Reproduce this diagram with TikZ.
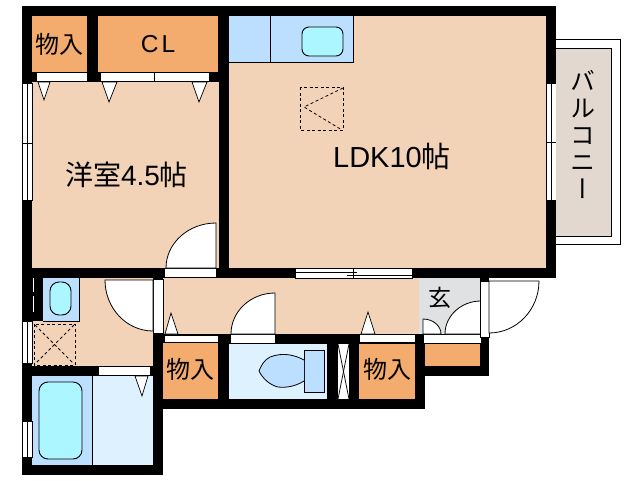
\documentclass[tikz,border=0pt]{standalone}
\usepackage{fontspec}
\setmainfont{Liberation Sans}
\newfontfamily\cjk{Noto Sans CJK JP}
\newfontfamily\cjkv[RawFeature=+vert]{Noto Sans CJK JP}
\definecolor{wallblack}{HTML}{000000}
\definecolor{roombeige}{HTML}{F2D3B8}
\definecolor{closetorange}{HTML}{F4AC6E}
\definecolor{wetblue}{HTML}{BDDFFF}
\definecolor{palebath}{HTML}{DEF1FF}
\definecolor{tubcyan}{HTML}{ABF6FF}
\definecolor{entrygray}{HTML}{DFE1E2}
\definecolor{balconytan}{HTML}{E2D8CF}
\tikzset{
  wall/.style={fill=wallblack, draw=none},
  room/.style={fill=roombeige, draw=none},
  closet/.style={fill=closetorange, draw=none},
  strip/.style={fill=white, draw=black, line width=0.7pt},
  doorleaf/.style={fill=white, draw=black, line width=0.8pt},
  fixture/.style={fill=wetblue, draw=black, line width=0.8pt},
  tub/.style={fill=tubcyan, draw=black, line width=0.9pt, rounded corners=7pt},
  hatch/.style={draw=black, line width=0.8pt, dash pattern=on 3pt off 2.5pt},
  wireline/.style={draw=black, line width=0.7pt},
  roomtext/.style={inner sep=0pt, text=black}
}
\begin{document}
\begin{tikzpicture}[x=1pt,y=-1pt]
\useasboundingbox[fill=white] (0,0) rectangle (638,480);

\fill[wall] (22,6) rectangle (556,278);
\fill[wall] (22,278) rectangle (163,475);
\fill[wall] (153,334) rectangle (425,409);
\fill[wall] (415,334) rectangle (489,376);
\fill[wall] (480,278) rectangle (489,282);

\fill[closet] (32,16) rectangle (87,72);
\fill[closet] (98,16) rectangle (218,72);
\fill[room] (32,82) rectangle (219,268);
\fill[room] (229,16) rectangle (546,268);
\fill[room] (163,278) rectangle (419,334);
\fill[room] (32,278) rectangle (153,366);
\fill[wall] (32,278) rectangle (43,321);
\fill[closet] (163,343) rectangle (218,399);
\fill[closet] (359,344) rectangle (415,399);
\fill[closet] (425,344) rectangle (480,366);
\fill[entrygray] (419,278) rectangle (480,334);
\fill[fill=palebath] (229,344) rectangle (327,399);
\fill[fill=palebath] (92,376) rectangle (153,465);

\draw[strip] (36,72) rectangle (87,81);
\draw[strip] (100,72) rectangle (209,81);
\draw[wireline] (154,72) -- (154,81);
\draw[strip] (38,82) -- (50,82) -- (44,100) -- cycle;
\draw[strip] (102,82) -- (117,82) -- (109,102) -- cycle;
\draw[strip] (192,82) -- (207,82) -- (199,102) -- cycle;

\draw[strip] (22,83) rectangle (32,200);
\draw[wireline] (27,83) -- (27,200);
\draw[wireline] (22,143) -- (32,143);
\draw[wireline] (27,137) -- (27,149);
\draw[strip] (546,83) rectangle (556,200);
\draw[wireline] (551,83) -- (551,200);
\draw[wireline] (546,142) -- (556,142);
\draw[wireline] (551,136) -- (551,148);

\fill[fill=wetblue] (229,16) rectangle (353,62);
\draw[wireline] (229,62) -- (353,62) -- (353,16);
\draw[wireline] (270,16) -- (270,62);
\draw[tub] (302,27) rectangle (343,56);
\draw[hatch] (300,87) rectangle (343,130);
\draw[hatch] (343,88) -- (304,107) -- (342,130);

\draw[black, line width=1pt] (556,39) -- (620,39) -- (620,244) -- (556,244);
\fill[balconytan] (556,48) rectangle (611,236);
\draw[black, line width=1pt] (556,48) -- (611,48) -- (611,236) -- (556,236);

\draw[strip] (164,268) rectangle (216,277);
\draw[doorleaf] (216,268) -- (216,223) arc (270:180:50 and 45) -- cycle;

\fill[white] (32.5,278) rectangle (33.5,292);
\fill[white] (32.5,296) rectangle (33.5,312);
\fill[fill=wetblue] (43,278) rectangle (79,321);
\draw[wireline] (43,321) -- (79,321) -- (79,278);
\draw[tub, rounded corners=9pt] (50,282) rectangle (71,315);
\draw[strip] (22,321) rectangle (32,363);
\draw[wireline] (27,321) -- (27,363);
\draw[hatch] (34,324) rectangle (75,365);
\draw[hatch] (35,325) -- (74,364);
\draw[hatch] (74,325) -- (35,364);
\draw[strip] (153,279) rectangle (163,333);
\draw[doorleaf] (153,280) -- (105,280) arc (180:90:48 and 51) -- cycle;

\draw[strip] (98,366) rectangle (150,375);
\fill[fill=wetblue] (32,376) rectangle (92,465);
\draw[wireline] (92,376) -- (92,465);
\draw[tub, rounded corners=9pt] (39,382) rectangle (82,459);
\draw[strip] (135,376) -- (148,376) -- (142,396) -- cycle;
\draw[strip] (22,421) rectangle (32,457);
\draw[wireline] (27,421) -- (27,457);

\draw[strip] (164,335) rectangle (218,342);
\draw[strip] (165,334) -- (178,334) -- (171,313) -- cycle;
\draw[strip] (230,334) rectangle (275,343);
\draw[doorleaf] (275,334) -- (275,293) arc (270:180:44 and 41) -- cycle;
\draw[strip] (359,334) rectangle (415,342);
\draw[strip] (361,334) -- (375,334) -- (368,312) -- cycle;

\draw[fixture] (304,350) rectangle (324,392);
\draw[fixture] (304,360) .. controls (295,355) and (283,352) .. (270,357) .. controls (264,360) and (261,366) .. (259,371) .. controls (263,379) and (270,385) .. (278,387) .. controls (287,388) and (296,386) .. (304,381);
\fill[white] (338,344) rectangle (349,399);
\draw[wireline] (338,344) -- (349,399);
\draw[wireline] (349,344) -- (338,399);

\draw[strip] (295,268) rectangle (412,278);
\draw[wireline] (295,272) -- (357,272);
\draw[wireline] (347,275) -- (412,275);
\draw[wireline] (353,268) -- (353,278);

\draw[strip] (423,334) rectangle (481,343);
\draw[doorleaf] (423,334) -- (423,319) arc (270:360:18 and 15) -- cycle;
\draw[doorleaf] (481,334) -- (481,301) arc (270:180:36 and 33) -- cycle;
\draw[strip] (480,281) rectangle (489,337);
\draw[doorleaf] (489,281) -- (539,281) arc (0:90:50 and 52) -- cycle;

\node[roomtext, font=\cjk\fontsize{24}{24}\selectfont] (closeta) at (59,44) {物入};
\node[roomtext, font=\fontsize{24.5}{24}\selectfont] (clset) at (158,44) {C\hspace{3pt}L};
\node[roomtext, font=\fontsize{28}{28}\selectfont] (bedroom) at (126.5,175) {{\cjk 洋室}4.5{\cjk 帖}};
\node[roomtext, font=\fontsize{29}{29}\selectfont] (ldk) at (392,156) {LDK10{\cjk 帖}};
\node[roomtext, font=\cjk\fontsize{24}{24}\selectfont] (closetb) at (190.5,369) {物入};
\node[roomtext, font=\cjk\fontsize{24}{24}\selectfont] (closetc) at (387,369) {物入};
\node[roomtext, font=\cjk\fontsize{23}{23}\selectfont] (entry) at (440,298) {玄};
\node[roomtext, align=center, font=\cjkv\fontsize{25}{27}\selectfont] (balcony) at (583,134) {バ\\ル\\コ\\ニ\\ー};
\end{tikzpicture}
\end{document}
